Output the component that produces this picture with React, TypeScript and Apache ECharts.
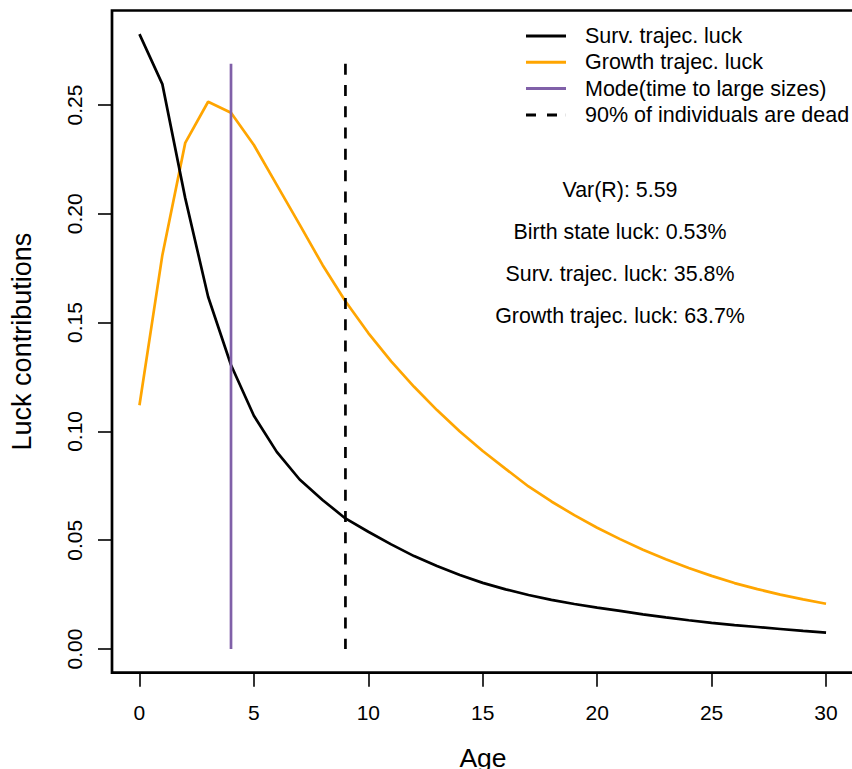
import React, { useEffect, useRef } from "react";
import * as echarts from "echarts";

const ages: number[] = Array.from({ length: 31 }, (_, i) => i);

const survLuck: number[] = [
  0.2826, 0.2596, 0.2072, 0.1619, 0.1305, 0.1072, 0.0906, 0.0779, 0.0685, 0.06,
  0.0539, 0.0481, 0.0427, 0.0381, 0.034, 0.0304, 0.0274, 0.0248, 0.0226, 0.0207,
  0.019, 0.0175, 0.0159, 0.0145, 0.0132, 0.012, 0.011, 0.0101, 0.0092, 0.0083,
  0.0075,
];

const growthLuck: number[] = [
  0.112, 0.181, 0.2326, 0.2515, 0.2464, 0.2316, 0.2133, 0.195, 0.1765, 0.1598,
  0.1452, 0.1322, 0.1205, 0.1098, 0.1, 0.091, 0.0828, 0.0747, 0.0678, 0.0615,
  0.0557, 0.0505, 0.0456, 0.0412, 0.0372, 0.0336, 0.0303, 0.0275, 0.025, 0.0228,
  0.0208,
];

const modeAge = 4;
const deadAge = 9;
const vLineTop = 0.269;

const xTicks: number[] = [0, 5, 10, 15, 20, 25, 30];
const yTicks: number[] = [0, 0.05, 0.1, 0.15, 0.2, 0.25];

const seriesNames: string[] = [
  "Surv. trajec. luck",
  "Growth trajec. luck",
  "Mode(time to large sizes)",
  "90% of individuals are dead",
];

const annotations: string[] = [
  "Var(R): 5.59",
  "Birth state luck: 0.53%",
  "Surv. trajec. luck: 35.8%",
  "Growth trajec. luck: 63.7%",
];

const FONT = '"Liberation Sans", Arial, Helvetica, sans-serif';

const SOLID_ICON = "path://M0,0H40V3H0Z";
const DASH_ICON = "path://M0,0H10V3H0Z M21,0H31V3H21Z M39.9,0H40V3H39.9Z";

export default function App() {
  const ref = useRef<HTMLDivElement>(null);

  useEffect(() => {
    if (!ref.current) return;
    const chart = echarts.init(ref.current, null, { renderer: "svg" });

    const toPairs = (vals: number[]) => ages.map((a, i) => [a, vals[i]]);

    const option: any = {
      animation: false,
      backgroundColor: "#ffffff",
      textStyle: { fontFamily: FONT },
      grid: {
        left: 112,
        top: 10.5,
        width: 741.5,
        height: 662.2,
        show: true,
        borderColor: "#000",
        borderWidth: 2.7,
        backgroundColor: "transparent",
        containLabel: false,
        outerBoundsMode: "none",
      },
      xAxis: {
        type: "value",
        min: -1.2,
        max: 31.2,
        axisLine: { show: false, onZero: false },
        splitLine: { show: false },
        axisTick: {
          show: true,
          customValues: xTicks,
          length: 14,
          inside: false,
          lineStyle: { color: "#000", width: 1.6 },
        },
        axisLabel: {
          customValues: xTicks,
          fontSize: 21,
          color: "#000",
          fontFamily: FONT,
          margin: 29,
        },
      },
      yAxis: {
        type: "value",
        min: -0.01089,
        max: 0.29343,
        axisLine: { show: false, onZero: false },
        splitLine: { show: false },
        axisTick: {
          show: true,
          customValues: yTicks,
          length: 14,
          inside: false,
          lineStyle: { color: "#000", width: 1.6 },
        },
        axisLabel: {
          customValues: yTicks,
          fontSize: 21,
          color: "#000",
          fontFamily: FONT,
          rotate: 90,
          margin: 27,
          formatter: (v: number) => v.toFixed(2),
        },
      },
      legend: {
        orient: "vertical",
        left: 526,
        top: 25,
        padding: 0,
        itemWidth: 40,
        itemHeight: 3,
        itemGap: 4.3,
        data: [
          { name: seriesNames[0], icon: SOLID_ICON },
          { name: seriesNames[1], icon: SOLID_ICON },
          { name: seriesNames[2], icon: SOLID_ICON },
          { name: seriesNames[3], icon: DASH_ICON },
        ],
        textStyle: {
          fontSize: 21.5,
          lineHeight: 21,
          color: "#000",
          fontFamily: FONT,
          padding: [0, 0, 0, 14],
        },
      },
      graphic: [
        ...annotations.map((t, i) => ({
          type: "text",
          x: 620,
          y: 190 + i * 42,
          silent: true,
          style: {
            text: t,
            fontSize: 21.4,
            fontFamily: FONT,
            fill: "#000",
            align: "center",
            verticalAlign: "middle",
          },
        })),
        {
          type: "text",
          x: 483,
          y: 758,
          silent: true,
          style: {
            text: "Age",
            fontSize: 26.5,
            fontFamily: FONT,
            fill: "#000",
            align: "center",
            verticalAlign: "middle",
          },
        },
        {
          type: "text",
          x: 22,
          y: 341.6,
          rotation: Math.PI / 2,
          silent: true,
          style: {
            text: "Luck contributions",
            fontSize: 27,
            fontFamily: FONT,
            fill: "#000",
            align: "center",
            verticalAlign: "middle",
          },
        },
      ],
      series: [
        {
          name: seriesNames[1],
          type: "line",
          data: toPairs(growthLuck),
          symbol: "none",
          showSymbol: false,
          lineStyle: { color: "#FFA500", width: 2.7 },
          itemStyle: { color: "#FFA500" },
          z: 2,
        },
        {
          name: seriesNames[0],
          type: "line",
          data: toPairs(survLuck),
          symbol: "none",
          showSymbol: false,
          lineStyle: { color: "#000000", width: 2.7 },
          itemStyle: { color: "#000000" },
          z: 3,
        },
        {
          name: seriesNames[2],
          type: "line",
          data: [
            [modeAge, vLineTop],
            [modeAge, 0],
          ],
          symbol: "none",
          showSymbol: false,
          lineStyle: { color: "#8060A8", width: 2.7 },
          itemStyle: { color: "#8060A8" },
          z: 4,
        },
        {
          name: seriesNames[3],
          type: "line",
          data: [
            [deadAge, vLineTop],
            [deadAge, 0],
          ],
          symbol: "none",
          showSymbol: false,
          lineStyle: { color: "#000000", width: 2.7, type: [11, 10.3] },
          itemStyle: { color: "#000000" },
          z: 5,
        },
      ],
    };

    chart.setOption(option);
    return () => {
      chart.dispose();
    };
  }, []);

  return (
    <div
      ref={ref}
      style={{
        position: "fixed",
        left: 0,
        top: 0,
        width: 852,
        height: 769,
        background: "#fff",
      }}
    />
  );
}
